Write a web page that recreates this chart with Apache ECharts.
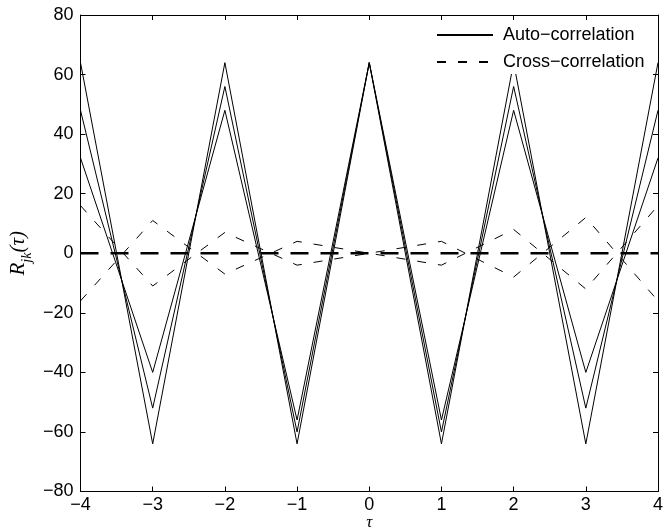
<!DOCTYPE html>
<html><head><meta charset="utf-8">
<script src="https://cdn.jsdelivr.net/npm/echarts@6/dist/echarts.min.js"></script>
<style>html,body{margin:0;padding:0;background:#fff}#c{width:669px;height:531px}</style>
</head><body><div id="c"></div>
<script>
const tau = [-4, -3, -2, -1, 0, 1, 2, 3, 4];
const auto1 = [64, -64, 64, -64, 64, -64, 64, -64, 64];
const auto2 = [48, -52, 56, -60, 64, -60, 56, -52, 48];
const auto3 = [32, -40, 48, -56, 64, -56, 48, -40, 32];
const cross1 = [16, -11, 7, -4, 0, 4, -8, 12, -16];
const cross2 = [-16, 11, -7, 4, 0, -4, 8, -12, 16];
const cross0 = [0, 0, 0, 0, 0, 0, 0, 0, 0];
const xTicks = [-4, -3, -2, -1, 0, 1, 2, 3, 4];
const yTicks = [-80, -60, -40, -20, 0, 20, 40, 60, 80];
const AUTO = 'Auto\u2212correlation', CROSS = 'Cross\u2212correlation';

const pts = v => tau.map((t, i) => [t, v[i]]);
const fmt = v => String(v).replace('-', '\u2212');
const font = 'Liberation Sans, Arial, Helvetica, sans-serif';
const serif = 'Liberation Serif, DejaVu Serif, serif';

function solid(v) {
  return {type:'line', name: AUTO, data: pts(v), symbol:'none', silent:true, animation:false,
    itemStyle:{color:'#000'}, lineStyle:{color:'#000', width:1, type:'solid'}};
}
function dashed(v, w, d) {
  return {type:'line', name: CROSS, data: pts(v), symbol:'none', silent:true, animation:false,
    itemStyle:{color:'#000'}, lineStyle:{color:'#000', width:w, type:d}};
}
const axBase = {type:'value', axisLine:{show:true, onZero:false, lineStyle:{color:'#000', width:1}},
  axisTick:{show:true, inside:true, length:5, lineStyle:{color:'#000'}}, splitLine:{show:false}};

const chart = echarts.init(document.getElementById('c'), null, {renderer:'canvas'});
chart.setOption({
  backgroundColor:'#fff',
  grid:{left:80.5, right:11, top:15, bottom:39.5, containLabel:false, outerBoundsMode:'none'},
  xAxis:[
    Object.assign({}, axBase, {min:-4, max:4, interval:1, position:'bottom',
      axisLabel:{color:'#000', fontSize:18, fontFamily:font, margin:5, formatter:fmt},
      name:'\u03c4', nameLocation:'middle', nameGap:23, nameMoveOverlap:false,
      nameTextStyle:{color:'#000', fontSize:17, fontStyle:'italic', fontFamily:serif}}),
    Object.assign({}, axBase, {min:-4, max:4, interval:1, position:'top', axisLabel:{show:false}})
  ],
  yAxis:[
    Object.assign({}, axBase, {min:-80, max:80, interval:20, position:'left',
      axisLabel:{color:'#000', fontSize:18, fontFamily:font, margin:7, formatter:fmt},
      name:'{a|R}{b|jk}{a|(\u03c4)}', nameLocation:'middle', nameGap:46, nameRotate:90, nameMoveOverlap:false,
      nameTextStyle:{color:'#000', rich:{
        a:{fontSize:21, fontStyle:'italic', fontFamily:serif, color:'#000', verticalAlign:'top', lineHeight:23},
        b:{fontSize:14, fontStyle:'italic', fontFamily:serif, color:'#000', verticalAlign:'bottom', lineHeight:27}
      }}}),
    Object.assign({}, axBase, {min:-80, max:80, interval:20, position:'right', axisLabel:{show:false}})
  ],
  legend:{data:[AUTO, CROSS], orient:'vertical', left:432, top:23, padding:[3,6,3,4], itemGap:9,
    itemWidth:56, itemHeight:14, backgroundColor:'#fff', borderWidth:0,
    itemStyle:{opacity:0},
    textStyle:{color:'#000', fontSize:18, fontFamily:font, padding:[0,0,0,5]}, selectedMode:false},
  series:[
    solid(auto1), solid(auto2), solid(auto3),
    dashed(cross1, 1, [9, 12]), dashed(cross2, 1, [9, 12]),
    dashed(cross0, 2.5, [18, 12])
  ]
});
</script></body></html>
